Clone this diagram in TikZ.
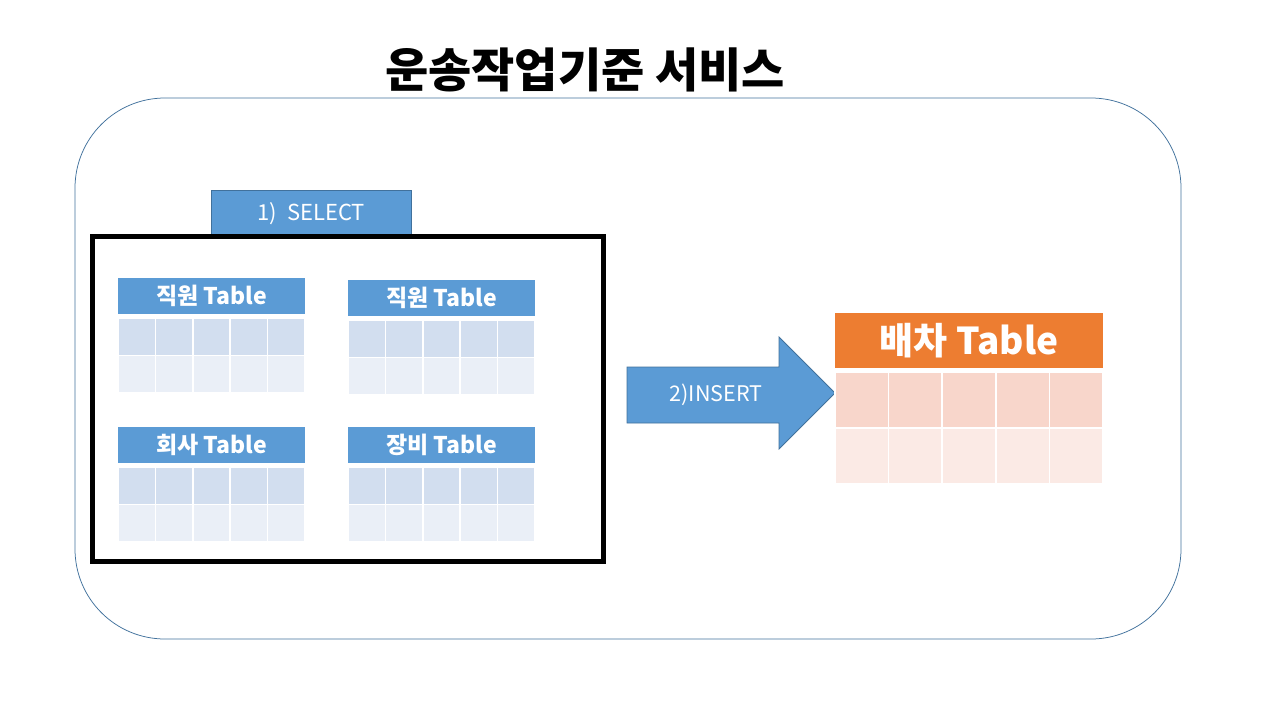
\documentclass[tikz,border=0pt]{standalone}
\usepackage{fontspec}
\setmainfont{Noto Sans CJK KR}
\usetikzlibrary{positioning}

\definecolor{hdrblue}{HTML}{5B9BD5}
\definecolor{edgeblue}{HTML}{41719C}
\definecolor{rowAblue}{HTML}{D2DEEF}
\definecolor{rowBblue}{HTML}{EAEFF7}
\definecolor{hdrorange}{HTML}{ED7D31}
\definecolor{rowAorange}{HTML}{F8D6CB}
\definecolor{rowBorange}{HTML}{FBEAE5}

% #1 name, #2 left, #3 top, #4 cell width, #5 header height, #6 row height,
% #7 colour set, #8 title, #9 font size
\newcommand{\dbtable}[9]{%
  \node[tblhead, fill=hdr#7, minimum width=5*#4, minimum height=#5,
        font=\bfseries\fontsize{#9}{#9}\selectfont] (#1) at (#2,#3) {#8};
  \foreach \c in {0,...,4}{
    \filldraw[tblcell, fill=rowA#7] (#2+\c*#4, #3+#5+4) rectangle ++(#4, #6);
    \filldraw[tblcell, fill=rowB#7] (#2+\c*#4, #3+#5+4+#6) rectangle ++(#4, #6);
  }
}

\begin{document}
\begin{tikzpicture}[x=1pt, y=-1pt,
    tblhead/.style={anchor=north west, inner sep=0pt, text=white},
    tblcell/.style={draw=white, line width=1.5pt},
    labelbox/.style={fill=hdrblue, draw=edgeblue, line width=0.75pt, text=white,
                     inner sep=0pt, font=\fontsize{22}{22}\selectfont}]
  \useasboundingbox (0,0) rectangle (1280,720);

  % title
  \node[font=\bfseries\fontsize{47}{47}\selectfont] (title) at (585,70) {운송작업기준 서비스};

  % service frame
  \draw[edgeblue, line width=0.75pt, rounded corners=90] (75,98) rectangle (1181,639);

  % select step
  \node[labelbox, minimum width=200, minimum height=46, anchor=north west] (select) at (211,190) {1)\ \ SELECT};
  \draw[line width=5pt] (92,236) rectangle (603,561);

  % source tables
  \dbtable{staffA}{118}{278}{37.4}{36}{37.5}{blue}{직원 Table}{23}
  \dbtable{staffB}{348}{280}{37.4}{36}{37.5}{blue}{직원 Table}{23}
  \dbtable{company}{118}{427}{37.4}{36}{37.5}{blue}{회사 Table}{23}
  \dbtable{equip}{348}{427}{37.4}{36}{37.5}{blue}{장비 Table}{23}

  % insert step
  \filldraw[fill=hdrblue, draw=edgeblue, line width=0.75pt]
    (627,367) -- (779,367) -- (779,337) -- (835,393) -- (779,449) -- (779,423) -- (627,423) -- cycle;
  \node[text=white, font=\fontsize{21.5}{21.5}\selectfont] (insert) at (716,395) {2)INSERT};

  % target table
  \dbtable{dispatch}{835}{313}{53.6}{55}{56}{orange}{배차 Table}{37}
\end{tikzpicture}
\end{document}
